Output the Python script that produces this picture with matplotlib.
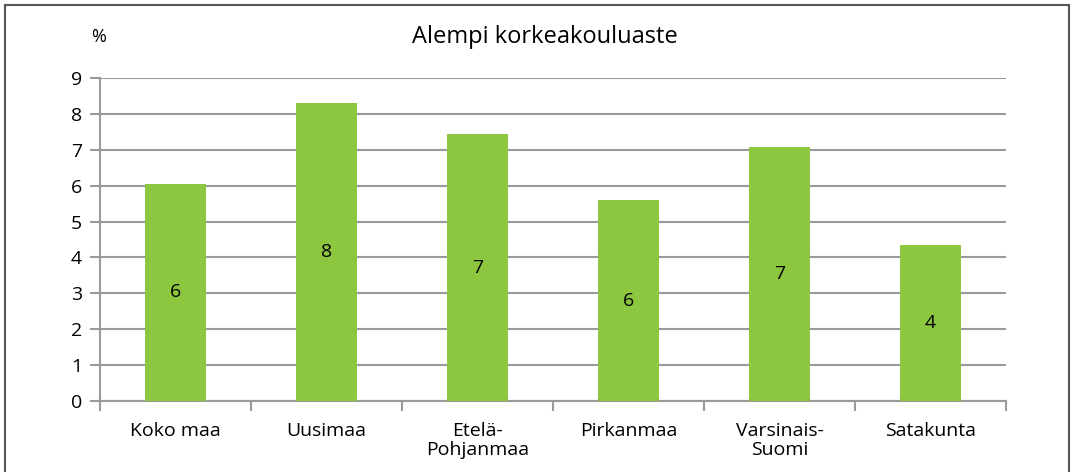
import matplotlib.pyplot as plt
from matplotlib.lines import Line2D

regions = ["Koko maa", "Uusimaa", "Etelä-\nPohjanmaa", "Pirkanmaa", "Varsinais-\nSuomi", "Satakunta"]
values = [6.05, 8.3, 7.44, 5.6, 7.08, 4.35]
labels = ["6", "8", "7", "6", "7", "4"]
yticks = list(range(0, 10))

plt.rcParams['font.family'] = ['Open Sans', 'DejaVu Sans']

fig = plt.figure(figsize=(10.75, 4.72), dpi=100)
ax = fig.add_axes([0.093, 0.1504, 0.843, 0.6843])

grid_col = '#9a9a9a'
x = range(len(regions))
bars = ax.bar(x, values, width=0.4, color='#8dc63f', zorder=3)
for i, (v, lab) in enumerate(zip(values, labels)):
    ax.text(i, v / 2, lab, ha='center', va='center', fontsize=14, color='black', zorder=4)

ax.set_xlim(-0.5, len(regions) - 0.5)
ax.set_ylim(0, 9)
ax.set_yticks(yticks)
ax.yaxis.grid(True, color=grid_col, linewidth=1.5, zorder=0)
ax.set_xticks(x)
ax.set_xticklabels(regions, fontsize=14, linespacing=1.1)
ax.tick_params(axis='x', length=0, pad=15)
ax.set_xticks([i - 0.5 for i in range(len(regions) + 1)], minor=True)
ax.tick_params(axis='x', which='minor', length=7, width=1.5, color=grid_col)
ax.tick_params(axis='y', length=7, width=1.5, color=grid_col, labelsize=14, pad=6)

for s in ['top', 'right']:
    ax.spines[s].set_visible(False)
for s in ['left', 'bottom']:
    ax.spines[s].set_color(grid_col)
    ax.spines[s].set_linewidth(1.5)

fig.text(0.507, 0.922, "Alempi korkeakouluaste", ha='center', va='center', fontsize=17)
fig.text(0.092, 0.922, "%", ha='center', va='center', fontsize=13)

# outer frame (bottom edge falls outside the picture)
l, r, t = 5 / 1075, 1069 / 1075, 1 - 5 / 472
for xs, ys in [([l, l], [0, t]), ([l, r], [t, t]), ([r, r], [t, 0])]:
    fig.add_artist(Line2D(xs, ys, color='#555555', linewidth=1.5))

fig.savefig('out.png', dpi=100)
